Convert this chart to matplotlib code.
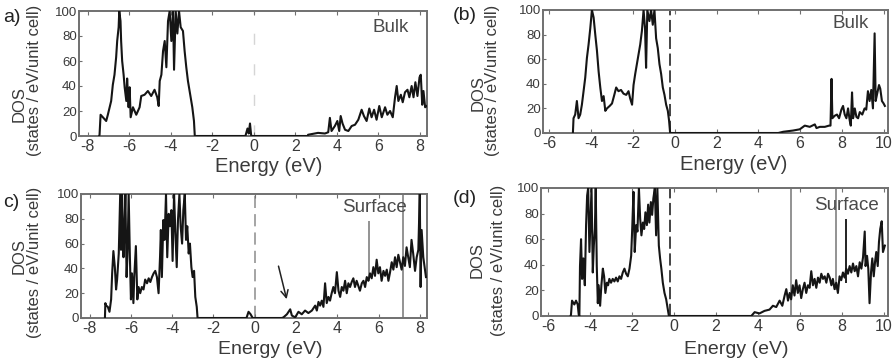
import matplotlib
matplotlib.use("Agg")
import matplotlib.pyplot as plt

plt.rcParams['font.family'] = ['Liberation Sans', 'DejaVu Sans']
plt.rcParams['axes.unicode_minus'] = False

# ---------------- data ----------------
# Panel a: bulk, energy (eV) and DOS
E_a = [-7.45, -7.43, -7.38, -7.27, -7.11, -7.03, -6.87, -6.79, -6.71, -6.63, -6.58, -6.51,
       -6.48, -6.42, -6.39, -6.34, -6.27, -6.22, -6.14, -6.10, -6.03, -5.98, -5.93, -5.82,
       -5.66, -5.50, -5.42, -5.26, -5.10, -4.94, -4.78, -4.65, -4.58, -4.53, -4.45, -4.37,
       -4.29, -4.21, -4.13, -4.05, -3.97, -3.89, -3.84, -3.76, -3.68, -3.60, -3.52, -3.41,
       -3.33, -3.25, -3.17, -3.04, -2.96, -2.88, -2.84,
       -0.40, -0.30, -0.24, -0.18, -0.12,
       2.60, 2.62, 3.10, 3.43, 3.59, 3.67, 3.75, 3.91, 4.03, 4.12, 4.19, 4.28, 4.40, 4.56,
       4.72, 4.88, 5.04, 5.20, 5.31, 5.44, 5.57, 5.68, 5.80, 5.92, 6.05, 6.17, 6.33, 6.44,
       6.57, 6.70, 6.81, 6.89, 6.97, 7.09, 7.18, 7.29, 7.41, 7.50, 7.61, 7.70, 7.79, 7.89,
       7.99, 8.05, 8.12, 8.18, 8.26, 8.34]
D_a = [0, 1, 17, 15, 12, 17, 28, 41, 49, 63, 76, 87,
       100, 92, 76, 60, 49, 39, 28, 46, 23, 39, 15, 23,
       17, 23, 32, 33, 36, 32, 37, 31, 24, 44, 49, 68,
       76, 55, 92, 100, 76, 100, 53, 100, 82, 100, 87, 84,
       68, 55, 44, 31, 23, 12, 0,
       0, 6, 2, 10, 0,
       0, 1, 2.5, 2, 3, 14.5, 4, 8, 12, 4, 16, 10, 5, 4,
       8, 9, 13, 21, 16, 12, 22, 15, 21, 13, 24, 15, 23, 17,
       20, 15, 31, 40, 28, 33, 27, 35, 37, 31, 40, 31, 43, 32,
       47, 49, 25, 36, 23, 24]

# Panel b: bulk
E_b = [-4.87, -4.84, -4.76, -4.68, -4.60, -4.52, -4.44, -4.36, -4.28, -4.20, -4.12, -4.04,
       -3.96, -3.88, -3.80, -3.72, -3.64, -3.56, -3.48, -3.40, -3.32, -3.24, -3.11, -3.00,
       -2.89, -2.80, -2.69, -2.57, -2.45, -2.32, -2.21, -2.13, -2.04, -1.97, -1.89, -1.81,
       -1.73, -1.65, -1.57, -1.49, -1.42, -1.37, -1.31, -1.21, -1.13, -1.05, -0.97, -0.89,
       -0.81, -0.73, -0.65, -0.57, -0.49, -0.41, -0.33, -0.27, -0.22,
       4.95, 5.19, 5.66, 5.98, 6.22, 6.46, 6.70, 6.78, 6.94, 7.18, 7.38, 7.45, 7.50, 7.54,
       7.65, 7.76, 7.86, 7.97, 8.05, 8.13, 8.21, 8.29, 8.37, 8.42, 8.48, 8.53, 8.61, 8.69,
       8.77, 8.85, 8.97, 9.08, 9.16, 9.24, 9.32, 9.40, 9.48, 9.56, 9.61, 9.67, 9.77, 9.83,
       9.91, 9.99, 10.05]
D_b = [0, 12, 15, 26, 12, 15, 23, 34, 45, 61, 72, 85,
       100, 94, 80, 67, 50, 37, 26, 30, 18, 20, 22, 24,
       31, 37, 34, 35, 32, 31, 34, 28, 23, 39, 48, 56,
       64, 72, 83, 100, 85, 53, 100, 91, 100, 88, 100, 77,
       69, 56, 48, 37, 31, 23, 18, 10, 0,
       0, 1, 2, 3, 6, 5, 7, 4, 5, 5, 6, 6, 44, 12,
       14, 15, 12, 19, 22, 15, 12, 20, 10, 6, 33, 12, 20, 13,
       12, 17, 15, 20, 19, 34, 26, 35, 20, 81, 26, 31, 39, 36,
       26, 24, 22]

# Panel c: surface
E_c = [-7.26, -7.24, -7.20, -7.12, -7.04, -6.96, -6.91, -6.85, -6.78, -6.72, -6.67, -6.59,
       -6.52, -6.48, -6.43, -6.36, -6.32, -6.27, -6.21, -6.16, -6.11, -6.05, -6.00, -5.95,
       -5.88, -5.84, -5.76, -5.69, -5.63, -5.55, -5.47, -5.39, -5.31, -5.22, -5.14, -5.06,
       -4.98, -4.90, -4.82, -4.74, -4.66, -4.59, -4.55, -4.50, -4.43, -4.37, -4.30, -4.24,
       -4.17, -4.11, -4.04, -3.98, -3.91, -3.85, -3.78, -3.72, -3.65, -3.59, -3.52, -3.46,
       -3.39, -3.33, -3.27, -3.20, -3.14, -3.07, -3.01, -2.94, -2.88, -2.81, -2.77, -2.72,
       -0.40, -0.30, -0.20, -0.10,
       1.31, 1.39, 1.56, 1.72, 1.80, 1.96, 2.12, 2.28, 2.44, 2.60, 2.77, 2.93, 3.01, 3.09,
       3.17, 3.25, 3.33, 3.41, 3.49, 3.57, 3.65, 3.73, 3.81, 3.89, 3.98, 4.06, 4.14, 4.22,
       4.30, 4.38, 4.46, 4.54, 4.62, 4.70, 4.78, 4.86, 4.94, 5.02, 5.10, 5.19, 5.27, 5.35,
       5.43, 5.51, 5.59, 5.67, 5.75, 5.83, 5.91, 5.99, 6.07, 6.15, 6.24, 6.32, 6.40, 6.48,
       6.56, 6.64, 6.72, 6.80, 6.88, 6.96, 7.04, 7.12, 7.20, 7.28, 7.36, 7.44, 7.52, 7.60,
       7.68, 7.77, 7.85, 7.93, 8.00, 8.04, 8.09, 8.17, 8.30]
D_c = [0, 12, 10, 9, 5, 15, 36, 54, 41, 23, 31, 52,
       100, 55, 100, 49, 68, 100, 33, 55, 100, 49, 15, 36,
       12, 33, 58, 15, 25, 20, 25, 23, 31, 28, 32, 29,
       33, 36, 38, 33, 20, 49, 71, 33, 79, 63, 100, 49,
       84, 74, 87, 46, 100, 71, 41, 79, 100, 74, 60, 87,
       100, 63, 74, 52, 60, 41, 33, 38, 17, 9, 0, 0,
       0, 5, 3, 0,
       0, 0.5, 3, 7, 2, 0.5, 5, 3, 6, 4, 6, 10, 6, 13,
       10, 14, 9, 28, 12, 17, 14, 20, 25, 20, 37, 22, 17, 25,
       22, 30, 20, 28, 25, 29, 32, 25, 30, 26, 22, 28, 30, 25,
       33, 30, 36, 32, 41, 34, 47, 36, 41, 30, 38, 34, 39, 30,
       37, 45, 39, 49, 41, 51, 45, 39, 49, 42, 57, 49, 41, 63,
       52, 38, 49, 55, 100, 25, 71, 49, 33]
# thin grey spikes overlaid on panel c: energy, low and high DOS
spk_c_E = [5.54, 7.20]
spk_c_lo = [30, 0]
spk_c_hi = [78, 100]

# Panel d: surface
E_d = [-4.94, -4.92, -4.87, -4.76, -4.68, -4.60, -4.55, -4.52, -4.49, -4.44, -4.39, -4.33,
       -4.26, -4.20, -4.15, -4.10, -4.04, -3.99, -3.94, -3.88, -3.83, -3.78, -3.74, -3.69,
       -3.64, -3.60, -3.53, -3.47, -3.40, -3.34, -3.28, -3.21, -3.15, -3.09, -3.01, -2.93,
       -2.85, -2.77, -2.69, -2.61, -2.53, -2.45, -2.37, -2.29, -2.21, -2.13, -2.05, -2.00,
       -1.94, -1.88, -1.81, -1.75, -1.68, -1.62, -1.56, -1.49, -1.43, -1.37, -1.30, -1.24,
       -1.18, -1.11, -1.05, -0.99, -0.92, -0.86, -0.80, -0.73, -0.67, -0.61, -0.54, -0.46,
       -0.38, -0.30, -0.25,
       3.68, 3.84, 4.07, 4.31, 4.55, 4.71, 4.87, 5.03, 5.16, 5.27, 5.35, 5.43, 5.51, 5.58,
       5.66, 5.74, 5.82, 5.90, 5.98, 6.06, 6.14, 6.22, 6.30, 6.38, 6.46, 6.54, 6.62, 6.70,
       6.78, 6.86, 6.94, 7.02, 7.10, 7.18, 7.26, 7.34, 7.42, 7.50, 7.57, 7.65, 7.73, 7.81,
       7.89, 7.97, 8.05, 8.13, 8.21, 8.29, 8.37, 8.45, 8.53, 8.61, 8.69, 8.77, 8.85, 8.93,
       9.01, 9.09, 9.13, 9.20, 9.26, 9.32, 9.39, 9.45, 9.52, 9.58, 9.64, 9.71, 9.77, 9.83,
       9.90, 9.96, 10.05]
D_d = [0, 1, 12, 9, 12, 9, 1, 0, 39, 60, 29, 45,
       24, 71, 94, 100, 50, 76, 100, 34, 55, 68, 100, 39,
       10, 24, 8, 24, 37, 31, 18, 26, 24, 29, 26, 29,
       27, 30, 27, 31, 29, 34, 37, 33, 31, 37, 47, 68,
       97, 50, 71, 66, 100, 76, 63, 73, 68, 81, 71, 87,
       73, 89, 79, 92, 100, 63, 100, 55, 45, 37, 26, 18,
       13, 5, 0,
       0, 3, 2, 4, 5, 8, 7, 12, 8, 16, 21, 12, 18, 13,
       24, 16, 28, 18, 24, 14, 21, 26, 18, 24, 22, 35, 24, 29,
       22, 30, 26, 33, 29, 31, 26, 33, 30, 24, 29, 21, 26, 18,
       31, 28, 34, 30, 37, 33, 39, 34, 41, 35, 39, 31, 42, 37,
       46, 66, 39, 47, 37, 10, 34, 45, 31, 42, 50, 39, 58, 68,
       74, 50, 55]
spk_d_E = [5.58, 7.70, 8.18]
spk_d_lo = [0, 20, 26]
spk_d_hi = [100, 100, 76]
spk_d_col = ['#8a8a8a', '#8a8a8a', '#111111']

xticks_ac = [-8, -6, -4, -2, 0, 2, 4, 6, 8]
xticks_bd = [-6, -4, -2, 0, 2, 4, 6, 8, 10]
yticks = [0, 20, 40, 60, 80, 100]

# ---------------- layout ----------------
W, H = 892, 359
fig = plt.figure(figsize=(W / 100, H / 100), dpi=100)


def px_axes(l, t, r, b):
    return [l / W, 1 - b / H, (r - l) / W, (b - t) / H]


def ftext(x, y, s, **kw):
    kw.setdefault('ha', 'center')
    kw.setdefault('va', 'center')
    fig.text(x / W, 1 - y / H, s, **kw)


TXT = '#3a3a3a'
LINE = '#151515'


def style(ax, xlim, xticks):
    ax.set_xlim(*xlim)
    ax.set_ylim(0, 100)
    ax.set_xticks(xticks)
    ax.set_yticks(yticks)
    for s in ax.spines.values():
        s.set_color('#707070')
        s.set_linewidth(1.4)
    ax.tick_params(axis='x', direction='in', length=3, top=True, pad=2.5,
                   labelsize=11.5, colors='#707070', labelcolor=TXT)
    ax.tick_params(axis='y', direction='in', length=2, pad=1.5,
                   labelsize=9.5, colors='#707070', labelcolor=TXT)


axes_px = {
    'a': (79, 11, 427, 136),
    'b': (543, 10, 888, 133),
    'c': (81, 194, 427, 318),
    'd': (541, 188, 888, 316),
}

ax_a = fig.add_axes(px_axes(*axes_px['a']))
ax_b = fig.add_axes(px_axes(*axes_px['b']))
ax_c = fig.add_axes(px_axes(*axes_px['c']))
ax_d = fig.add_axes(px_axes(*axes_px['d']))

style(ax_a, (-8.42, 8.35), xticks_ac)
style(ax_c, (-8.42, 8.35), xticks_ac)
style(ax_b, (-6.3, 10.2), xticks_bd)
style(ax_d, (-6.35, 10.2), xticks_bd)

# Fermi level markers
ax_a.axvline(0, color='#d5d5d5', lw=1.0, ls=(0, (8, 14)), zorder=1)
ax_c.axvline(0, color='#8c8c8c', lw=1.1, ls=(0, (8, 4)), zorder=1)
ax_b.axvline(-0.22, color='#111111', lw=1.1, ls=(0, (8, 3)), zorder=1)
ax_d.axvline(-0.22, color='#111111', lw=1.1, ls=(0, (8, 3)), zorder=1)

LW = 1.5
ax_a.plot(E_a, D_a, color=LINE, lw=LW, zorder=3)
ax_b.plot(E_b, D_b, color=LINE, lw=LW, zorder=3)
ax_c.vlines(spk_c_E, spk_c_lo, spk_c_hi, color='#8a8a8a', lw=1.3, zorder=2)
ax_c.plot(E_c, D_c, color=LINE, lw=LW, zorder=3)
ax_d.vlines(spk_d_E, spk_d_lo, spk_d_hi, color=spk_d_col, lw=1.3, zorder=2)
ax_d.plot(E_d, D_d, color=LINE, lw=LW, zorder=3)

# arrow in panel c
ax_c.annotate('', xy=(1.58, 13), xytext=(1.12, 44),
              arrowprops=dict(arrowstyle='->', color='#222222', lw=1.1,
                              mutation_scale=13))

# in-panel labels
ftext(391, 27, 'Bulk', fontsize=13.5, color='#4a4a4a')
ftext(851, 23, 'Bulk', fontsize=13.5, color='#4a4a4a')
ftext(374, 208, 'Surface', fontsize=13.5, color='#4a4a4a')
ftext(846, 205, 'Surface', fontsize=13.5, color='#4a4a4a')

# panel letters
ftext(12, 18, 'a)', fontsize=14, color='#222222')
ftext(465, 16, '(b)', fontsize=14, color='#222222')
ftext(11, 202, 'c)', fontsize=14, color='#222222')
ftext(465, 199, '(d)', fontsize=14, color='#222222')

# axis titles
ftext(269, 166, 'Energy (eV)', fontsize=14.5, color=TXT)
ftext(734, 164, 'Energy (eV)', fontsize=14.5, color=TXT)
ftext(270, 358, 'Energy (eV)', fontsize=14, color=TXT, va='bottom')
ftext(736, 358, 'Energy (eV)', fontsize=14, color=TXT, va='bottom')

for (xd, yd, xu, yu) in [(19, 104, 35, 80), (478, 93, 493, 80),
                         (19, 256, 35, 262), (477, 260, 499, 260)]:
    ftext(xd, yd, 'DOS', fontsize=12, color=TXT, rotation=90)
    ftext(xu, yu, '(states / eV/unit cell)', fontsize=12, color=TXT, rotation=90)

fig.savefig('out.png', dpi=100)
